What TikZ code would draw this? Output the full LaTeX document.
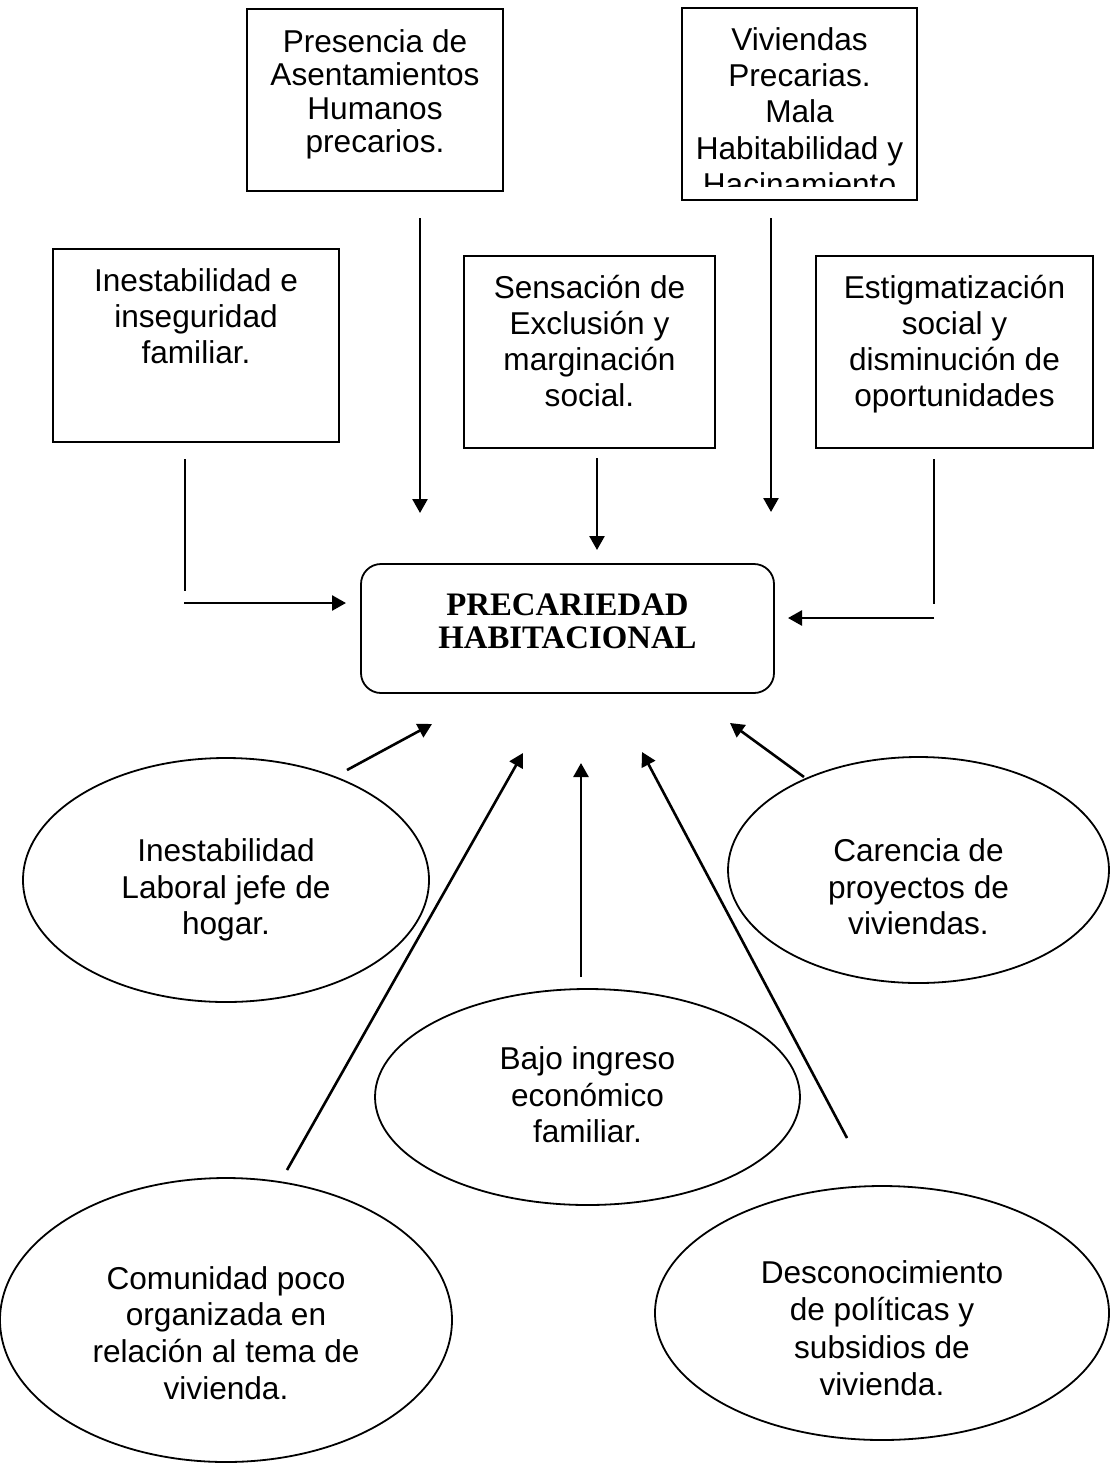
\documentclass[tikz,border=0pt]{standalone}
\usepackage{fontspec}
\setmainfont{Liberation Sans}
\newfontfamily\titlefont{Liberation Serif}
\usepackage{tikz}
\usetikzlibrary{positioning, arrows.meta, shapes.geometric}

\begin{document}
\begin{tikzpicture}[
        x=0.5pt, y=-0.5pt,
        box/.style={draw, line width=0.9pt, inner sep=0pt},
        boxtext/.style={inner sep=0pt, align=center, font=\fontsize{15.8}{18}\selectfont},
        bubble/.style={draw, ellipse, line width=0.9pt, inner sep=0pt},
        flow/.style={-{Triangle[length=7pt, width=7.5pt]}, line width=1.3pt},
        link/.style={line width=1.3pt}
    ]
        \useasboundingbox (0,0) rectangle (1110,1463);

        % causas de arriba
        \node[box, minimum width=128pt, minimum height=91pt] (pres) at (375,100) {};
        \node[boxtext, font=\fontsize{15.8}{16.65}\selectfont, below=10.5pt of pres.north] (presT) {Presencia de\\Asentamientos\\Humanos\\precarios.};

        \node[box, minimum width=117.5pt, minimum height=96pt] (viv) at (799.5,104) {};
        \begin{scope}
            \clip (682,8) rectangle (917,186);
            \node[boxtext, font=\fontsize{15.8}{18.1}\selectfont, below=10pt of viv.north] (vivT) {Viviendas\\Precarias.\\Mala\\Habitabilidad y\\Hacinamiento};
        \end{scope}

        \node[box, minimum width=143pt, minimum height=96.5pt] (ines) at (196,345.5) {};
        \node[boxtext, below=10pt of ines.north] (inesT) {Inestabilidad e\\inseguridad\\familiar.};

        \node[box, minimum width=125.5pt, minimum height=96pt] (sens) at (589.5,352) {};
        \node[boxtext, below=10pt of sens.north] (sensT) {Sensación de\\Exclusión y\\marginación\\social.};

        \node[box, minimum width=138.5pt, minimum height=96pt] (estig) at (954.5,352) {};
        \node[boxtext, below=10pt of estig.north] (estigT) {Estigmatización\\social y\\disminución de\\oportunidades};

        % problema central
        \node[box, rounded corners=10pt, minimum width=206.5pt, minimum height=64.5pt] (prec) at (567.5,628.5) {};
        \node[boxtext, font=\titlefont\fontsize{16.4}{16.5}\selectfont\bfseries, below=15pt of prec.north] (precT) {PRECARIEDAD\\HABITACIONAL};

        % causas de abajo
        \node[bubble, minimum width=203pt, minimum height=122pt] (labo) at (226,880) {};
        \node[boxtext, font=\fontsize{15.8}{18.25}\selectfont, yshift=-5pt] (laboT) at (labo.center) {Inestabilidad\\Laboral jefe de\\hogar.};

        \node[bubble, minimum width=190.5pt, minimum height=113pt] (care) at (918.5,870) {};
        \node[boxtext, font=\fontsize{15.8}{18.25}\selectfont, yshift=-8.5pt] (careT) at (care.center) {Carencia de\\proyectos de\\viviendas.};

        \node[bubble, minimum width=212.5pt, minimum height=108pt] (bajo) at (587.5,1097) {};
        \node[boxtext, font=\fontsize{15.8}{18.25}\selectfont, yshift=1pt] (bajoT) at (bajo.center) {Bajo ingreso\\económico\\familiar.};

        \node[bubble, minimum width=226pt, minimum height=142pt] (comu) at (226,1320) {};
        \node[boxtext, font=\fontsize{15.8}{18.35}\selectfont, yshift=-6.5pt] (comuT) at (comu.center) {Comunidad poco\\organizada en\\relación al tema de\\vivienda.};

        \node[bubble, minimum width=227pt, minimum height=127pt] (desc) at (882,1313) {};
        \node[boxtext, font=\fontsize{15.8}{18.75}\selectfont, yshift=-7.5pt] (descT) at (desc.center) {Desconocimiento\\de políticas y\\subsidios de\\vivienda.};

        % flechas
        \coordinate (presA) at (420,218);
        \coordinate (presB) at (420,513);
        \coordinate (vivA) at (771,218);
        \coordinate (vivB) at (771,512);
        \coordinate (sensA) at (597,458);
        \coordinate (sensB) at (597,550);
        \coordinate (inesA) at (185,459);
        \coordinate (inesB) at (185,591);
        \coordinate (inesC) at (184,603);
        \coordinate (inesD) at (346,603);
        \coordinate (estigA) at (934,459);
        \coordinate (estigB) at (934,604);
        \coordinate (estigC) at (934,618);
        \coordinate (estigD) at (788,618);
        \coordinate (laboA) at (347,770);
        \coordinate (laboB) at (432,724);
        \coordinate (comuA) at (287,1170);
        \coordinate (comuB) at (523,753);
        \coordinate (bajoA) at (581,977);
        \coordinate (bajoB) at (581,763);
        \coordinate (descA) at (847,1138);
        \coordinate (descB) at (642,752);
        \coordinate (careA) at (804,777);
        \coordinate (careB) at (730,723);

        \draw[flow] (presA) -- (presB);
        \draw[flow] (vivA) -- (vivB);
        \draw[flow] (sensA) -- (sensB);
        \draw[link] (inesA) -- (inesB);
        \draw[flow] (inesC) -- (inesD);
        \draw[link] (estigA) -- (estigB);
        \draw[flow] (estigC) -- (estigD);
        \draw[flow] (laboA) -- (laboB);
        \draw[flow] (comuA) -- (comuB);
        \draw[flow] (bajoA) -- (bajoB);
        \draw[flow] (descA) -- (descB);
        \draw[flow] (careA) -- (careB);
    \end{tikzpicture}
\end{document}
